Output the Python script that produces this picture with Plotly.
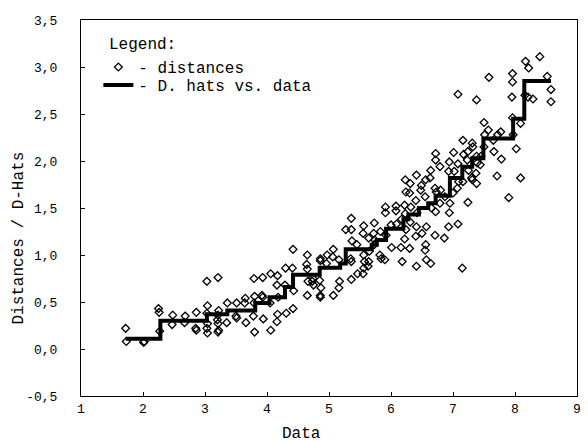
import plotly.graph_objects as go

# 散点：distances（按列从左到右读取）
dist_x = [
    1.72, 1.73,
    2.01, 2.02,
    2.25, 2.26, 2.27,
    2.48, 2.47,
    2.68, 2.67,
    2.86, 2.85, 2.86,
    3.03, 3.04, 3.03, 3.04, 3.03, 3.04,
    3.21, 3.22, 3.21, 3.20, 3.21, 3.22, 3.21,
    3.36, 3.35,
    3.51, 3.50, 3.51,
    3.65, 3.64, 3.66,
    3.79, 3.80, 3.79, 3.78, 3.80,
    3.93, 3.92, 3.93, 3.94,
    4.06, 4.05, 4.06,
    4.17, 4.16, 4.18, 4.17, 4.16,
    4.30, 4.29, 4.31,
    4.42, 4.41, 4.43, 4.42,
    4.65, 4.64, 4.65, 4.66, 4.65,
    4.74, 4.73, 4.75,
    4.86, 4.86, 4.85, 4.87, 4.86, 4.86,
    4.97, 4.96,
    5.07, 5.06, 5.07,
    5.16, 5.17, 5.16,
    5.27,
    5.36, 5.36, 5.37, 5.35, 5.36, 5.36,
    5.45, 5.46,
    5.56, 5.55, 5.56, 5.57, 5.56, 5.55,
    5.64, 5.65, 5.64, 5.63,
    5.73, 5.72, 5.74, 5.73,
    5.83, 5.82, 5.84,
    5.91, 5.91, 5.92, 5.90,
    6.00, 6.01,
    6.08, 6.08, 6.09,
    6.17, 6.16, 6.18,
    6.23, 6.24, 6.22, 6.23, 6.24, 6.22,
    6.31, 6.30, 6.32, 6.31, 6.30,
    6.41, 6.40, 6.42, 6.41, 6.40, 6.41,
    6.49, 6.48, 6.50,
    6.56, 6.55, 6.57, 6.56, 6.55, 6.57,
    6.64, 6.63, 6.65, 6.64,
    6.72, 6.72, 6.71, 6.73, 6.72, 6.71,
    6.79, 6.80, 6.79,
    6.87, 6.86,
    6.94, 6.93, 6.95, 6.94, 6.93,
    7.01, 7.02, 7.00,
    7.08, 7.08, 7.09, 7.07, 7.08,
    7.16, 7.17, 7.16, 7.15,
    7.24, 7.23, 7.25, 7.24,
    7.31, 7.32, 7.30, 7.31,
    7.38, 7.38, 7.39, 7.37, 7.38,
    7.45, 7.44,
    7.50, 7.51, 7.50,
    7.58, 7.57,
    7.65, 7.66,
    7.72, 7.71,
    7.77, 7.78,
    7.90,
    7.96, 7.96, 7.95, 7.96, 7.97,
    8.02,
    8.09, 8.09,
    8.17, 8.16,
    8.22, 8.21,
    8.29,
    8.40,
    8.52,
    8.58, 8.58,
]
dist_y = [
    0.22, 0.08,
    0.07, 0.08,
    0.43, 0.39, 0.19,
    0.36, 0.26,
    0.35, 0.28,
    0.39, 0.22, 0.20,
    0.72, 0.46, 0.38, 0.27, 0.22, 0.17,
    0.76, 0.41, 0.36, 0.31, 0.27, 0.20, 0.18,
    0.49, 0.28,
    0.49, 0.35, 0.33,
    0.54, 0.49, 0.28,
    0.75, 0.56, 0.49, 0.35, 0.18,
    0.76, 0.57, 0.55, 0.32,
    0.80, 0.49, 0.20,
    0.78, 0.68, 0.55, 0.37, 0.29,
    0.86, 0.68, 0.38,
    1.06, 0.86, 0.62, 0.43,
    1.00, 0.90, 0.85, 0.72, 0.57,
    0.75, 0.72, 0.68,
    0.96, 0.94, 0.73, 0.65, 0.57, 0.55,
    1.00, 0.91,
    1.06, 0.98, 0.57,
    0.95, 0.72, 0.65,
    1.27,
    1.39, 1.27, 1.15, 0.96, 0.93, 0.74,
    1.11, 0.80,
    1.31, 1.23, 1.00, 0.93, 0.86, 0.80,
    1.18, 1.04, 0.93, 0.88,
    1.34, 1.23, 1.16, 1.11,
    1.25, 1.00, 0.96,
    1.51, 1.45, 1.21, 0.95,
    1.32, 1.08,
    1.52, 1.47, 1.33,
    1.38, 1.08, 0.93,
    1.80, 1.67, 1.53, 1.44, 1.27, 1.17,
    1.76, 1.66, 1.51, 1.35, 1.07,
    1.85, 1.58, 1.45, 1.30, 1.20, 0.88,
    1.74, 1.69, 1.23,
    1.80, 1.62, 1.30, 1.11, 1.05, 0.95,
    1.90, 1.82, 1.50, 0.91,
    2.08, 2.01, 1.71, 1.67, 1.46, 1.21,
    1.94, 1.69, 1.55,
    1.62, 1.18,
    1.99, 1.89, 1.55, 1.45, 1.30,
    2.09, 1.89, 1.66,
    2.71, 1.97, 1.78, 1.71, 1.33,
    2.22, 2.07, 1.78, 0.86,
    2.10, 2.01, 1.90, 1.56,
    2.19, 2.15, 1.82, 1.80,
    2.65, 2.05, 1.98, 1.87, 1.76,
    2.05, 1.96,
    2.41, 2.28, 2.15,
    2.89, 2.33,
    2.22, 2.10,
    2.28, 1.84,
    2.31, 2.02,
    1.61,
    2.93, 2.84, 2.68, 2.46, 2.28,
    2.13,
    2.40, 1.82,
    3.06, 2.70,
    2.99, 2.68,
    2.66,
    3.11,
    2.90,
    2.76, 2.63,
]

# 阶梯线：D. hats vs. data
hat_x = [1.72, 2.28, 3.03, 3.36, 3.81, 4.04, 4.29, 4.42, 4.85, 5.18, 5.27, 5.69, 5.77,
         5.92, 6.20, 6.28, 6.45, 6.60, 6.72, 6.95, 7.15, 7.31, 7.49, 7.97, 8.15, 8.58]
hat_y = [0.11, 0.30, 0.37, 0.41, 0.49, 0.55, 0.66, 0.79, 0.865, 0.91, 1.06, 1.11, 1.16,
         1.28, 1.38, 1.43, 1.50, 1.55, 1.63, 1.82, 1.94, 2.03, 2.24, 2.45, 2.85, 2.85]

x_ticks = [1, 2, 3, 4, 5, 6, 7, 8, 9]
y_ticks = [-0.5, 0.0, 0.5, 1.0, 1.5, 2.0, 2.5, 3.0, 3.5]
y_ticktext = ["-0,5", "0,0", "0,5", "1,0", "1,5", "2,0", "2,5", "3,0", "3,5"]

mono = "Liberation Mono, Courier New, monospace"

fig = go.Figure()
fig.add_trace(go.Scatter(
    x=dist_x, y=dist_y, mode="markers", name="- distances", legend="legend", showlegend=True,
    marker=dict(symbol="diamond-open", size=6, color="black", line=dict(width=1.3, color="black"))
))
fig.add_trace(go.Scatter(
    x=hat_x, y=hat_y, mode="lines", name="- D. hats vs. data", legend="legend2", showlegend=True,
    line=dict(shape="hv", color="black", width=4)
))

axis_common = dict(
    showline=True, linecolor="black", linewidth=1, mirror=True,
    ticks="inside", ticklen=4, tickcolor="black", showgrid=False, zeroline=False,
    tickfont=dict(family=mono, size=13, color="black"), automargin=False,
)

legend_common = dict(
    xanchor="left", yanchor="top", bgcolor="rgba(0,0,0,0)", borderwidth=0,
    font=dict(family=mono, size=16, color="black"), itemwidth=30, visible=True,
)

fig.update_layout(
    width=588, height=442,
    paper_bgcolor="white", plot_bgcolor="white",
    margin=dict(l=81, r=11, t=20, b=46),
    font=dict(family=mono, color="black"),
    showlegend=True,
    xaxis=dict(range=[1, 9], tickvals=x_ticks, **axis_common),
    yaxis=dict(range=[-0.5, 3.5], tickvals=y_ticks, ticktext=y_ticktext,
               ticklabelstandoff=20, **axis_common),
    legend=dict(x=0.035, y=0.92, **legend_common),
    legend2=dict(x=0.035, y=0.872, **legend_common),
    annotations=[
        dict(text="Legend:", xref="paper", yref="paper", x=0.052, y=0.934,
             xanchor="left", yanchor="middle", showarrow=False,
             font=dict(family=mono, size=16)),
        dict(text="Data", xref="paper", yref="paper", x=0.445, y=-0.1,
             xanchor="center", yanchor="middle", showarrow=False,
             font=dict(family=mono, size=16)),
        dict(text="Distances / D-Hats", xref="paper", yref="paper", x=-0.124, y=0.42,
             xanchor="center", yanchor="middle", textangle=-90, showarrow=False,
             font=dict(family=mono, size=16)),
    ],
)

fig.write_html("out.html", config={"displayModeBar": False},
               post_script="document.body.style.margin='0';")
